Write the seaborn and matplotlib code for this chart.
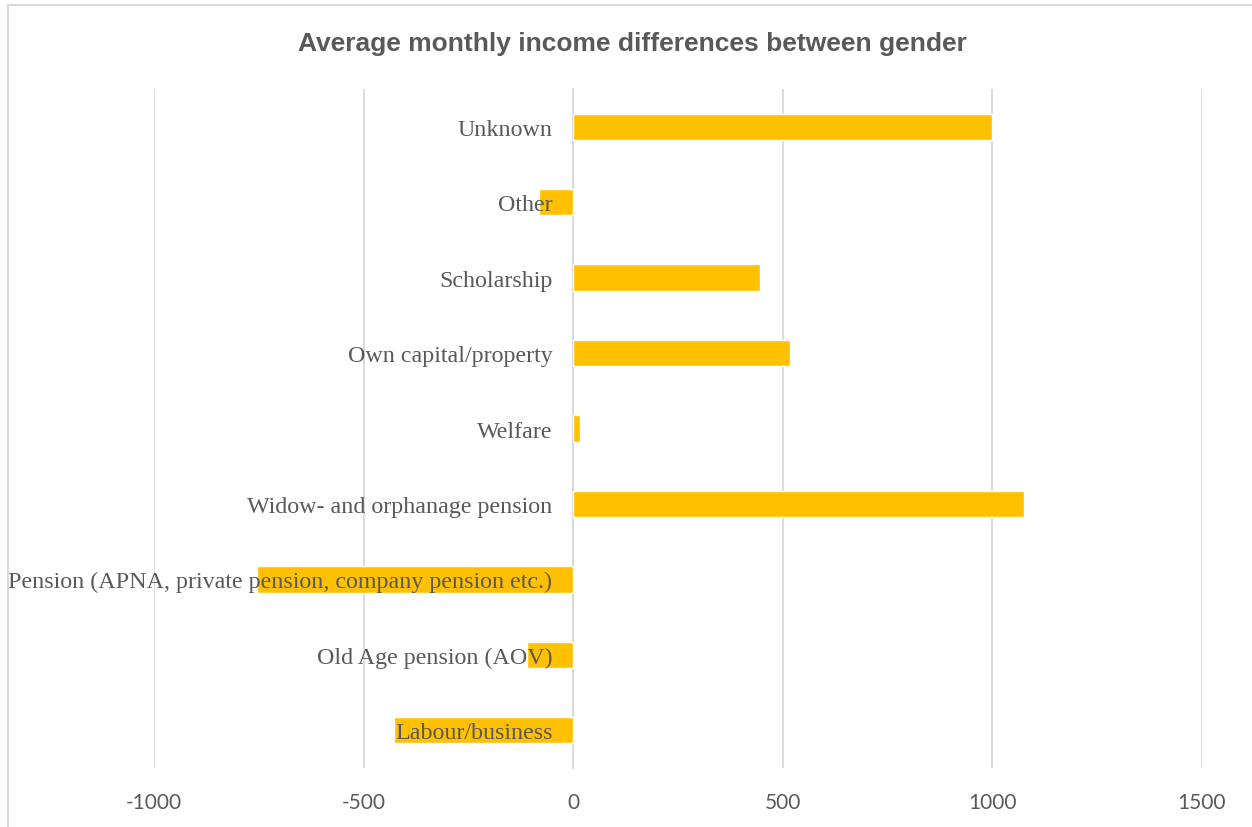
import matplotlib
matplotlib.use("Agg")
import matplotlib.pyplot as plt
from matplotlib.lines import Line2D
import seaborn as sns
import pandas as pd

categories = [
    "Unknown",
    "Other",
    "Scholarship",
    "Own capital/property",
    "Welfare",
    "Widow- and orphanage pension",
    "Pension (APNA, private pension, company pension etc.)",
    "Old Age pension (AOV)",
    "Labour/business",
]
differences = [1000, -82, 445, 516, 16, 1075, -754, -110, -427]
x_ticks = [-1000, -500, 0, 500, 1000, 1500]

title = "Average monthly income differences between gender"
bar_color = "#FFC000"
grid_color = "#D9D9D9"
text_color = "#595959"

df = pd.DataFrame({"category": categories, "difference": differences})

sns.set_theme(style="white")
fig = plt.figure(figsize=(12.52, 8.28), dpi=100)
ax = fig.add_axes([154 / 1252, 1 - 769 / 828, (1202 - 154) / 1252, (769 - 90) / 828])

sns.barplot(data=df, x="difference", y="category", orient="h", order=categories,
            color=bar_color, saturation=1, width=0.35, ax=ax, zorder=2)

ax.set_xlim(-1000, 1500)
ax.set_ylim(len(categories) - 0.5, -0.5)
ax.set_xticks(x_ticks)
ax.set_xticklabels([str(v) for v in x_ticks], family="Lato", fontsize=15, color=text_color)
ax.set_xlabel("")
ax.set_ylabel("")

# vertical gridlines behind the bars
ax.grid(axis="x", color=grid_color, linewidth=1.3)
ax.grid(axis="y", visible=False)
ax.set_axisbelow(True)
# category labels are drawn on top of the bars
ax.yaxis.set_zorder(4)

for side in ["top", "right", "bottom"]:
    ax.spines[side].set_visible(False)
# category labels sit beside the zero line
ax.spines["left"].set_position(("data", 0))
ax.spines["left"].set_color(grid_color)
ax.spines["left"].set_linewidth(1.3)
ax.spines["left"].set_zorder(1)

ax.tick_params(axis="y", length=0, pad=15)
ax.tick_params(axis="x", length=0, pad=17)
for lbl in ax.get_yticklabels():
    lbl.set_family("Liberation Serif")
    lbl.set_fontsize(17.3)
    lbl.set_color(text_color)

fig.text(632 / 1252, 1 - 44 / 828, title, ha="center", va="center",
         fontsize=19, fontweight="bold", color=text_color, family="Liberation Sans")

# chart frame
fig.add_artist(Line2D([8 / 1252, 8 / 1252], [0, 1 - 6 / 828], color=grid_color, linewidth=1.5))
fig.add_artist(Line2D([8 / 1252, 1], [1 - 6 / 828, 1 - 6 / 828], color=grid_color, linewidth=1.5))

fig.savefig("out.png", dpi=100, facecolor="white")
